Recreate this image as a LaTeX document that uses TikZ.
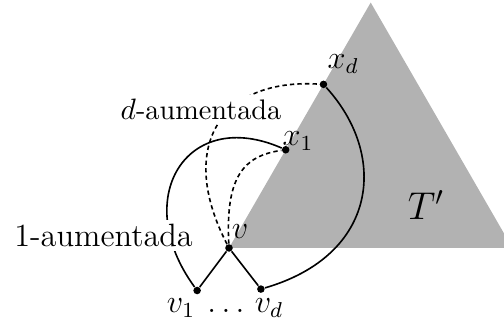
\documentclass[tikz,border=0pt]{standalone}
\usepackage{tikz}
\tikzset{
  punkt/.style={circle, fill=black, inner sep=0pt, minimum size=2.8pt},
  kante/.style={line width=0.6pt},
  gestrichelt/.style={line width=0.6pt, dash pattern=on 1.6pt off 1.2pt},
  marke/.style={font=\large},
}
\begin{document}
\begin{tikzpicture}[scale=0.925]
% Bildausschnitt
\clip (-3.232,-1.087) rectangle (3.881,3.5);
% Teilbaum T'
\fill[black!30] (0,0) -- (2,3.464) -- (4,0) -- cycle;
\node[font=\Large] (tlab) at (2.78,0.607) {$T'$};
% Knoten
\node[punkt] (v) at (0,0) {};
\node[punkt] (v1) at (-0.45,-0.6) {};
\node[punkt] (vd) at (0.45,-0.58) {};
\node[punkt] (x1) at (0.8,1.386) {};
\node[punkt] (xd) at (1.333,2.309) {};
% Kanten
\draw[kante] (v1) -- (v) -- (vd);
\draw[kante] (v1) .. controls (-1.4,0.7) and (-0.6,2.0) .. (x1);
\draw[kante] (vd) .. controls (2.1,-0.1) and (2.25,1.3) .. (xd);
% aumentadas (gestrichelt)
\draw[gestrichelt] (v) .. controls (-0.05,1.0) and (0.2,1.3) .. (x1);
\draw[gestrichelt] (v) .. controls (-0.75,1.45) and (-0.1,2.4) .. (xd);
% Beschriftungen
\node[marke, fill=white, inner sep=1.5pt] (eins) at (-1.77,0.18) {1-aumentada};
\node[fill=white, inner sep=1.5pt, font=\fontsize{10.5pt}{12pt}\selectfont] (dlab) at (-0.395,1.96) {$d$-aumentada};
\node[marke] (vlab) at (0.155,0.233) {$v$};
\node[marke] (x1lab) at (0.974,1.51) {$x_1$};
\node[marke] (xdlab) at (1.61,2.60) {$x_d$};
% untere Zeile
\node[marke, anchor=base] (v1lab) at (-0.677,-0.917) {$v_1$};
\node[marke, anchor=base] (pkte) at (-0.042,-0.917) {$\dots$};
\node[marke, anchor=base] (vdlab) at (0.565,-0.917) {$v_d$};
\end{tikzpicture}
\end{document}
